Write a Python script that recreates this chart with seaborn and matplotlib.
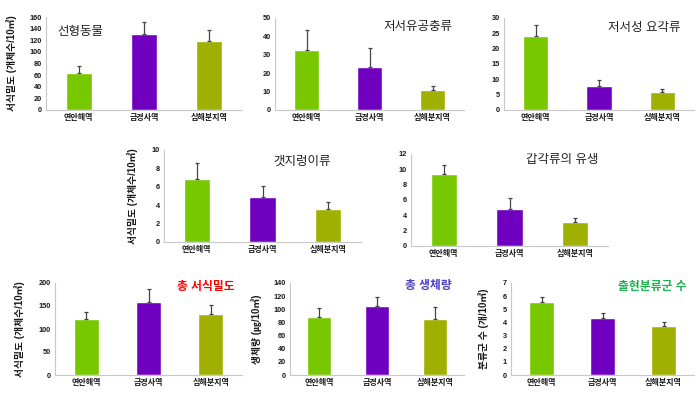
import pandas as pd
import matplotlib
matplotlib.use("Agg")
import matplotlib.pyplot as plt
import seaborn as sns

sns.set_style("white")
plt.rcParams['font.family'] = ['Liberation Sans', 'Noto Sans CJK KR', 'DejaVu Sans']

# sites (x categories)
sites = ['연안해역', '급경사역', '심해분지역']
bar_colors = ['#78C800', '#7000C0', '#A0B000']

# panel data: means and upper error
nematoda = [64, 131, 118]
nematoda_err = [11, 21, 19]
foram = [32.5, 23.5, 11]
foram_err = [11, 10, 2]
copepoda = [24, 7.7, 5.8]
copepoda_err = [3.8, 2.1, 1.2]
polychaeta = [6.9, 4.9, 3.6]
polychaeta_err = [1.7, 1.2, 0.7]
larvae = [9.4, 4.8, 3.1]
larvae_err = [1.1, 1.5, 0.5]
total_density = [122, 158, 133]
total_density_err = [15, 28, 19]
biomass = [88, 105, 85]
biomass_err = [14, 13, 19]
taxa = [5.55, 4.35, 3.75]
taxa_err = [0.35, 0.4, 0.3]

W, H = 698, 409
fig = plt.figure(figsize=(W / 100, H / 100), dpi=100)

# (pixel box), values, errors, ylim, ystep, title, title pos, title style, ylabel, ylabel x
panels = [
    ((46, 17, 242, 110), nematoda, nematoda_err, 160, 20, '선형동물', (0.06, 0.84, 'left'), ('#222222', 'normal', 9), '서식밀도 (개체수/10㎡)', 12),
    ((275, 18, 464, 110), foram, foram_err, 50, 10, '저서유공충류', (0.94, 0.9, 'right'), ('#222222', 'normal', 9), None, None),
    ((504, 18, 694, 110), copepoda, copepoda_err, 30, 5, '저서성 요각류', (0.93, 0.89, 'right'), ('#222222', 'normal', 9), None, None),
    ((164, 150, 361, 242), polychaeta, polychaeta_err, 10, 2, '갯지렁이류', (0.70, 0.87, 'center'), ('#222222', 'normal', 9), '서식밀도 (개체수/10㎡)', 133),
    ((411, 154, 608, 246), larvae, larvae_err, 12, 2, '갑각류의 유생', (0.95, 0.93, 'right'), ('#222222', 'normal', 9), None, None),
    ((55, 283, 242, 375), total_density, total_density_err, 200, 50, '총 서식밀도', (0.96, 0.96, 'right'), ('#FF0000', 'bold', 8.5), '서식밀도 (개체수/10㎡)', 20),
    ((290, 283, 464, 375), biomass, biomass_err, 140, 20, '총 생체량', (0.93, 0.97, 'right'), ('#4B3FC8', 'bold', 8.5), '생체량 (㎍/10㎡)', 257),
    ((511, 283, 694, 375), taxa, taxa_err, 7, 1, '출현분류군 수', (0.96, 0.96, 'right'), ('#20B050', 'bold', 8.5), '분류군 수 (개/10㎡)', 484),
]

for box, vals, errs, ymax, ystep, title, tpos, tstyle, ylab, ylab_x in panels:
    x0, y0, x1, y1 = box
    ax = fig.add_axes([x0 / W, 1 - y1 / H, (x1 - x0) / W, (y1 - y0) / H])
    df = pd.DataFrame({'site': sites, 'value': vals})
    sns.barplot(data=df, x='site', y='value', hue='site', palette=bar_colors,
                width=0.4, legend=False, ax=ax, saturation=1)
    ax.errorbar(range(3), vals, yerr=[[0, 0, 0], errs], fmt='none',
                ecolor='#444444', elinewidth=0.9, capsize=1.5, capthick=0.9)
    ax.set_xlim(-0.5, 2.5)
    ax.set_ylim(0, ymax)
    ax.set_yticks(range(0, ymax + 1, ystep))
    ax.tick_params(axis='both', length=0, pad=3)
    ax.tick_params(axis='y', labelsize=5.3)
    ax.tick_params(axis='x', labelsize=5.8)
    for lab in ax.get_yticklabels():
        lab.set_fontweight('bold')
        lab.set_color('#1a1a1a')
    for lab in ax.get_xticklabels():
        lab.set_fontweight('bold')
        lab.set_color('#1a1a1a')
    ax.set_xlabel('')
    ax.set_ylabel('')
    for s in ['top', 'right']:
        ax.spines[s].set_visible(False)
    for s in ['left', 'bottom']:
        ax.spines[s].set_color('#C8C8C8')
        ax.spines[s].set_linewidth(0.8)
    ax.text(tpos[0], tpos[1], title, transform=ax.transAxes, ha=tpos[2], va='center',
            color=tstyle[0], fontweight=tstyle[1], fontsize=tstyle[2])
    if ylab:
        fig.text(ylab_x / W, 1 - ((y0 + y1) / 2) / H, ylab, rotation=90,
                 ha='center', va='center', fontsize=7, fontweight='bold', color='#1a1a1a')

fig.savefig('out.png', dpi=100)
